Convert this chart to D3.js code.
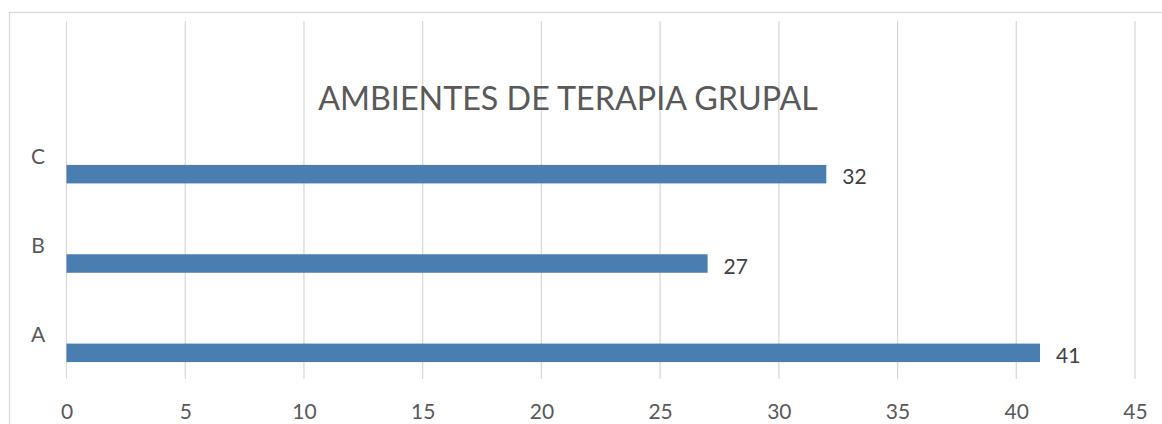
<!DOCTYPE html>
<html>
<head>
<meta charset="utf-8">
<script src="https://cdn.jsdelivr.net/npm/d3@7"></script>
<style>
  html, body { margin: 0; padding: 0; background: #ffffff; }
  svg { display: block; }
</style>
</head>
<body>
<script>
// ---- data ----
const categories = ["A", "B", "C"];
const values = [41, 27, 32];
const tickValues = [0, 5, 10, 15, 20, 25, 30, 35, 40, 45];
const title = "AMBIENTES DE TERAPIA GRUPAL";

const W = 1162, H = 424;
const svg = d3.select("body").append("svg").attr("width", W).attr("height", H);
const font = "Lato, 'Open Sans', sans-serif";
const textColor = "#595959";

// chart border (extends past right/bottom edge)
svg.append("rect")
  .attr("x", 9.5).attr("y", 12.5)
  .attr("width", 1170).attr("height", 430)
  .attr("fill", "none").attr("stroke", "#d9d9d9").attr("stroke-width", 1.3);

const plotTop = 21, plotBottom = 379;
const x = d3.scaleLinear().domain([0, 45]).range([66.5, 1135]);
const y = d3.scaleBand().domain(["C", "B", "A"]).range([129.5, 397.5]);

// gridlines
svg.append("g").selectAll("line").data(tickValues).join("line")
  .attr("x1", d => x(d)).attr("x2", d => x(d))
  .attr("y1", plotTop).attr("y2", plotBottom)
  .attr("stroke", "#d9d9d9").attr("stroke-width", 1.3);

// x axis tick labels via d3 axis
const xAxis = d3.axisBottom(x).tickValues(tickValues).tickSize(0).tickPadding(0);
const gx = svg.append("g").attr("transform", `translate(0, 419)`).call(xAxis);
gx.select(".domain").remove();
gx.selectAll("text")
  .attr("font-family", font).attr("font-size", 21).attr("fill", textColor)
  .attr("y", 0).attr("dy", 0);

// category labels
svg.append("g").selectAll("text").data(categories).join("text")
  .attr("x", 38)
  .attr("y", d => y(d) + y.bandwidth() / 2 - 18)
  .attr("dy", "0.36em")
  .attr("text-anchor", "middle")
  .attr("font-family", font).attr("font-size", 21).attr("fill", textColor)
  .text(d => d);

// bars
const barH = 18.5;
const data = categories.map((c, i) => ({ c, v: values[i] }));
svg.append("g").selectAll("rect").data(data).join("rect")
  .attr("x", x(0))
  .attr("y", d => y(d.c) + y.bandwidth() / 2 - barH / 2)
  .attr("width", d => x(d.v) - x(0))
  .attr("height", barH)
  .attr("fill", "#4a7eb0");

// value labels
svg.append("g").selectAll("text").data(data).join("text")
  .attr("x", d => x(d.v) + 16)
  .attr("y", d => y(d.c) + y.bandwidth() / 2 + 10)
  .attr("font-family", font).attr("font-size", 21).attr("fill", "#404040")
  .text(d => d.v);

// title, fitted to the reference width
const t = svg.append("text")
  .attr("x", 568).attr("y", 110)
  .attr("text-anchor", "middle")
  .attr("font-family", font).attr("font-size", 34).attr("fill", textColor)
  .text(title);
const tw = t.node().getComputedTextLength();
if (tw > 0) t.attr("font-size", 34 * 500 / tw);
</script>
</body>
</html>
